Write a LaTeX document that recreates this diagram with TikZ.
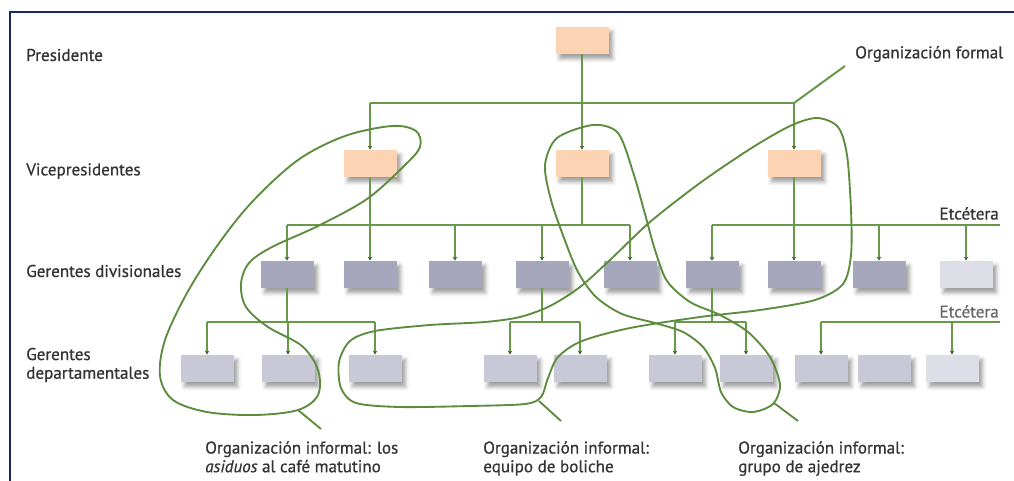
\documentclass[tikz,border=0pt]{standalone}
\usepackage{fontspec}
\setmainfont{PT Sans}[FakeBold=0.8]
\usetikzlibrary{arrows.meta,shadows.blur}

\definecolor{frameblue}{RGB}{22,38,110}
\definecolor{linegreen}{RGB}{104,152,74}
\definecolor{loopgreen}{RGB}{92,140,62}
\definecolor{tipgreen}{RGB}{70,100,50}
\definecolor{peach}{RGB}{252,212,180}
\definecolor{divgray}{RGB}{166,166,188}
\definecolor{depgray}{RGB}{200,200,214}
\definecolor{palegray}{RGB}{222,222,230}
\definecolor{labeltext}{RGB}{52,52,52}
\definecolor{softtext}{RGB}{105,105,105}

\begin{document}
\begin{tikzpicture}[x=0.75pt,y=-0.75pt,
  box/.style={rectangle, draw=none, minimum width=39.75pt, minimum height=20.5pt, inner sep=0pt,
    blur shadow={shadow xshift=3pt, shadow yshift=-3.5pt, shadow blur radius=3pt, shadow opacity=38}},
  pres/.style={box, fill=peach},
  divbox/.style={box, fill=divgray},
  depbox/.style={box, fill=depgray},
  conn/.style={linegreen, line width=1.5pt},
  drop/.style={conn, -{Stealth[length=3pt,width=3.5pt,color=tipgreen]}},
  informal/.style={loopgreen, line width=1.4pt},
  lbl/.style={font=\fontsize{12.8pt}{14pt}\selectfont, text=labeltext, inner sep=0pt, align=left},
]
\useasboundingbox (0,0) rectangle (1014,481);

% frame edges
\draw[frameblue, line width=1.6pt] (10,481) -- (10,12) -- (1014,12);

% level labels
\node[lbl, anchor=west] (lp) at (26,55) {Presidente};
\node[lbl, anchor=west] (lv) at (26,171) {Vicepresidentes};
\node[lbl, anchor=west] (lg) at (26,271) {Gerentes divisionales};
\node[lbl, anchor=west] (ld) at (26,365) {Gerentes\\departamentales};

% bus heights
\coordinate (bus1) at (0,103);
\coordinate (bus2) at (0,225);
\coordinate (bus3) at (0,322);

% boxes
\node[pres] (P) at (582,40.5) {};
\node[pres] (V1) at (370,163.5) {};
\node[pres] (V2) at (582,163.5) {};
\node[pres] (V3) at (794,163.5) {};

\node[divbox] (D1) at (287,274.5) {};
\node[divbox] (D2) at (370,274.5) {};
\node[divbox] (D3) at (455,274.5) {};
\node[divbox] (D4) at (542,274.5) {};
\node[divbox] (D5) at (630,274.5) {};
\node[divbox] (D6) at (712,274.5) {};
\node[divbox] (D7) at (794,274.5) {};
\node[divbox] (D8) at (879,274.5) {};
\node[box, fill=palegray] (D9) at (966,274.5) {};

\node[depbox] (T1) at (207,368.5) {};
\node[depbox] (T2) at (288,368.5) {};
\node[depbox] (T3) at (375,368.5) {};
\node[depbox] (T4) at (510,368.5) {};
\node[depbox] (T5) at (580,368.5) {};
\node[depbox] (T6) at (675,368.5) {};
\node[depbox] (T7) at (746,368.5) {};
\node[depbox] (T8) at (821,368.5) {};
\node[depbox] (T9) at (884,368.5) {};
\node[box, fill=palegray] (T10) at (952,368.5) {};

% formal structure: president to vice presidents
\draw[conn] (P.south) -- (P.south |- bus1);
\draw[conn] (V1.north |- bus1) -- (V3.north |- bus1);
\foreach \v in {V1,V2,V3} \draw[drop] (\v.north |- bus1) -- (\v.north);

% vice presidents to division managers
\coordinate (etc1) at (1000,225);
\draw[conn] (V1.south) -- (V1.south |- bus2);
\draw[conn] (V2.south) -- (V2.south |- bus2);
\draw[conn] (V3.south) -- (V3.south |- bus2);
\draw[conn] (D1.north |- bus2) -- (D5.north |- bus2);
\draw[conn] (D6.north |- bus2) -- (etc1);
\foreach \d in {D1,D2,D3,D4,D5,D6,D7,D8,D9} \draw[drop] (\d.north |- bus2) -- (\d.north);

% division managers to department managers
\coordinate (etc2) at (1000,322);
\draw[conn] (D1.south) -- (D1.south |- bus3);
\draw[conn] (T1.north |- bus3) -- (T3.north |- bus3);
\draw[conn] (D4.south) -- (D4.south |- bus3);
\draw[conn] (T4.north |- bus3) -- (T5.north |- bus3);
\draw[conn] (D6.south) -- (D6.south |- bus3);
\draw[conn] (T6.north |- bus3) -- (T7.north |- bus3);
\draw[conn] (T8.north |- bus3) -- (etc2);
\foreach \t in {T1,T2,T3,T4,T5,T6,T7,T8,T10} \draw[drop] (\t.north |- bus3) -- (\t.north);

\node[lbl, anchor=south east] (e1) at (999,220) {Etcétera};
\node[lbl, anchor=south east, text=softtext] (e2) at (999,318) {Etcétera};

% formal organization callout
\node[lbl, anchor=west] (F) at (855,54) {Organización formal};
\coordinate (ftip) at (845,66);
\draw[conn] (V3.north |- bus1) -- (ftip);

% informal group: morning coffee regulars
\draw[informal] plot[smooth cycle, tension=0.55] coordinates {
  (392,126) (416,131) (420,147) (404,166) (367,199) (318,226) (272,247) (249,263)
  (241,284) (246,307) (268,327) (302,346) (318,370) (318,395) (298,410) (255,415)
  (207,412) (173,400) (160,376) (165,340) (187,293) (217,246) (252,202) (298,160)
  (345,136)};

% informal group: bowling team
\draw[informal] plot[smooth cycle, tension=0.5] coordinates {
  (817,118) (838,127) (847,155) (851,210) (851,255) (843,284) (815,300) (760,310)
  (700,317) (630,328) (582,341) (558,357) (548,378) (541,397) (525,404) (470,406)
  (400,407) (356,403) (341,388) (339,362) (350,341) (375,331) (430,325) (485,322)
  (520,317) (550,306) (580,287) (610,260) (650,222) (700,183) (750,149) (790,126)};

% informal group: chess club
\draw[informal] plot[smooth cycle, tension=0.5] coordinates {
  (593,125) (618,133) (633,172) (645,214) (655,250) (667,281) (690,302) (720,315)
  (748,332) (770,357) (780,385) (773,404) (753,412) (733,407) (721,392) (715,368)
  (703,347) (683,332) (655,323) (622,314) (596,297) (578,272) (564,238) (551,200)
  (545,165) (557,138)};

% captions and their leaders
\node[lbl, anchor=north west] (ca) at (205,441) {Organización informal: los\\\textit{asiduos} al café matutino};
\node[lbl, anchor=north west] (cb) at (483,441) {Organización informal:\\equipo de boliche};
\node[lbl, anchor=north west] (cc) at (738,441) {Organización informal:\\grupo de ajedrez};

\coordinate (la1) at (298,410);
\coordinate (la2) at (321,429);
\coordinate (lb1) at (539,401);
\coordinate (lb2) at (561,421);
\coordinate (lc1) at (774,403);
\coordinate (lc2) at (798,421);
\draw[informal] (la1) -- (la2);
\draw[informal] (lb1) -- (lb2);
\draw[informal] (lc1) -- (lc2);
\end{tikzpicture}
\end{document}
